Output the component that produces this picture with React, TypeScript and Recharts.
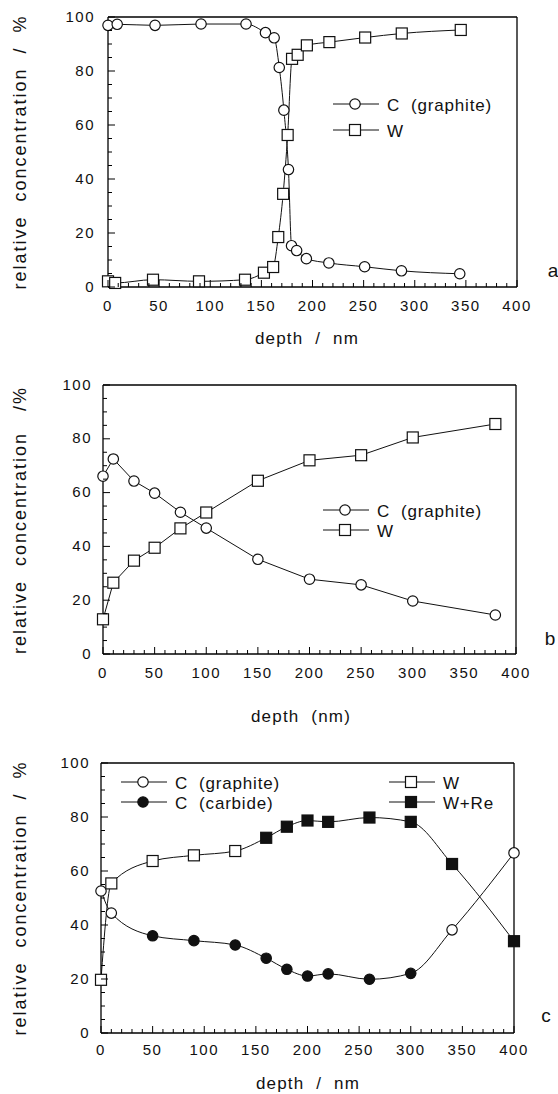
import React from "react";
import { LineChart, Line, XAxis, YAxis } from "recharts";

const FONT = "'Liberation Sans', Arial, Helvetica, sans-serif";
const INK = "#111";

// panel a
const aGraphiteDepth = [0, 9, 46, 91, 135, 154, 162.5, 167.5, 172, 176.5, 179.5, 184.5, 194, 216, 251, 287, 344];
const aGraphiteValue = [96.9, 97.3, 96.9, 97.4, 97.4, 94.2, 92.3, 81.3, 65.5, 43.5, 15.3, 13.5, 10.5, 8.9, 7.5, 6.0, 4.9];
const aTungstenDepth = [0, 7, 44, 89, 134, 152.5, 161.5, 166.5, 171.3, 175.7, 180, 185.5, 194.5, 216.5, 251.5, 287.3, 345];
const aTungstenValue = [2.1, 1.5, 2.7, 2.1, 2.7, 5.3, 7.4, 18.5, 34.5, 56.3, 84.5, 86, 89.5, 90.7, 92.4, 93.9, 95.2];

// panel b
const bDepth = [0, 10, 30, 50, 75, 100, 150, 200, 250, 300, 380];
const bGraphite = [66.1, 72.5, 64.3, 59.8, 52.7, 46.8, 35.2, 27.8, 25.7, 19.7, 14.5];
const bTungsten = [12.9, 26.5, 34.7, 39.5, 46.7, 52.6, 64.4, 72.0, 73.9, 80.5, 85.5];

// panel c
const cDepth = [0, 10, 50, 90, 130, 160, 180, 200, 220, 260, 300, 340, 400];
const cCarbon = [52.6, 44.4, 36.0, 34.2, 32.6, 27.7, 23.6, 21.1, 21.9, 19.9, 22.1, 38.2, 66.7];
const cCarbonFilled = [false, false, true, true, true, true, true, true, true, true, true, false, false];
const cMetal = [19.7, 55.4, 63.7, 65.8, 67.4, 72.3, 76.4, 78.7, 78.2, 79.8, 78.2, 62.6, 34.0];
const cMetalFilled = [false, false, false, false, false, true, true, true, true, true, true, true, true];

const xTicks = Array.from({ length: 41 }, (_, i) => i * 10);
const yTicks = Array.from({ length: 21 }, (_, i) => i * 5);

const zip = (xs: number[], ys: number[], filled?: boolean[]) =>
  xs.map((x, i) => ({ x, y: ys[i], filled: filled ? filled[i] : false }));

const BottomTick = (props: any) => {
  const { x, y, payload, labelDy } = props;
  const major = payload.value % 50 === 0;
  const len = major ? 7 : 4;
  return (
    <g>
      <path d={`M${x},${y}V${y - len}`} stroke="#000" strokeWidth={1} fill="none" />
      {major && (
        <text x={x} y={y + labelDy} textAnchor="middle" dominantBaseline="central"
          fontFamily={FONT} fontSize={15} letterSpacing={1.5} fill={INK}>
          {payload.value}
        </text>
      )}
    </g>
  );
};

const TopTick = (props: any) => {
  const { x, y, payload } = props;
  const len = payload.value % 50 === 0 ? 7 : 4;
  return <path d={`M${x},${y}V${y + len}`} stroke="#000" strokeWidth={1} fill="none" />;
};

const LeftTick = (props: any) => {
  const { x, y, payload, labelDx } = props;
  const major = payload.value % 20 === 0;
  const len = major ? 7 : 4;
  return (
    <g>
      <path d={`M${x},${y}H${x + len}`} stroke="#000" strokeWidth={1} fill="none" />
      {major && (
        <text x={x - labelDx} y={y - 1} textAnchor="end" dominantBaseline="central"
          fontFamily={FONT} fontSize={15} letterSpacing={1.5} fill={INK}>
          {payload.value}
        </text>
      )}
    </g>
  );
};

const RightTick = (props: any) => {
  const { x, y, payload } = props;
  const len = payload.value % 20 === 0 ? 7 : 4;
  return <path d={`M${x},${y}H${x - len}`} stroke="#000" strokeWidth={1} fill="none" />;
};

const makeDot = (shape: "circle" | "square") => (props: any) => {
  const { cx, cy, payload, index } = props;
  if (cx == null || cy == null) return <g key={index} />;
  const fill = payload.filled ? INK : "#fff";
  if (shape === "circle")
    return <circle key={index} cx={cx} cy={cy} r={5.2} fill={fill} stroke={INK} strokeWidth={1.2} />;
  return <rect key={index} x={cx - 5.5} y={cy - 5.5} width={11} height={11} fill={fill} stroke={INK} strokeWidth={1.2} />;
};

type Series = { data: { x: number; y: number; filled: boolean }[]; shape: "circle" | "square" };

// axes are 1px thick so that recharts still draws them; margins are the plot box minus 1
function Panel({ top, height, box, series, curve, labelDy, labelDx }: {
  top: number; height: number;
  box: { top: number; right: number; bottom: number; left: number };
  series: Series[]; curve: "monotone" | "linear"; labelDy: number; labelDx: number;
}) {
  const margin = { top: box.top - 1, right: box.right - 1, bottom: box.bottom - 1, left: box.left - 1 };
  const axisLine = { stroke: "#000", strokeWidth: 1.3 };
  return (
    <div style={{ position: "absolute", left: 0, top }}>
      <LineChart width={558} height={height} margin={margin}>
        <XAxis xAxisId="b" type="number" dataKey="x" domain={[0, 400]} ticks={xTicks} interval={0}
          height={1} tickSize={0} tickMargin={0} tickLine={false}
          axisLine={axisLine} tick={<BottomTick labelDy={labelDy} />} />
        <XAxis xAxisId="t" orientation="top" type="number" dataKey="x" domain={[0, 400]} ticks={xTicks}
          interval={0} height={1} tickSize={0} tickMargin={0} tickLine={false}
          axisLine={axisLine} tick={<TopTick />} />
        <YAxis yAxisId="l" type="number" domain={[0, 100]} ticks={yTicks} interval={0}
          width={1} tickSize={0} tickMargin={0} tickLine={false}
          axisLine={axisLine} tick={<LeftTick labelDx={labelDx} />} />
        <YAxis yAxisId="r" orientation="right" type="number" domain={[0, 100]} ticks={yTicks} interval={0}
          width={1} tickSize={0} tickMargin={0} tickLine={false}
          axisLine={axisLine} tick={<RightTick />} />
        {series.map((s, i) => (
          <Line key={i} xAxisId="b" yAxisId="l" data={s.data} dataKey="y" type={curve}
            stroke={INK} strokeWidth={1} dot={makeDot(s.shape)} activeDot={false}
            isAnimationActive={false} />
        ))}
      </LineChart>
    </div>
  );
}

type LegendItem = { label: string; shape: "circle" | "square"; filled: boolean; x: number; y: number };

const legendA: LegendItem[] = [
  { label: "C  (graphite)", shape: "circle", filled: false, x: 333, y: 104 },
  { label: "W", shape: "square", filled: false, x: 333, y: 130 },
];
const legendB: LegendItem[] = [
  { label: "C  (graphite)", shape: "circle", filled: false, x: 323, y: 510 },
  { label: "W", shape: "square", filled: false, x: 323, y: 530 },
];
const legendC: LegendItem[] = [
  { label: "C  (graphite)", shape: "circle", filled: false, x: 121, y: 782 },
  { label: "C  (carbide)", shape: "circle", filled: true, x: 121, y: 802 },
  { label: "W", shape: "square", filled: false, x: 389, y: 782 },
  { label: "W+Re", shape: "square", filled: true, x: 389, y: 802 },
];

const textBase: React.CSSProperties = {
  position: "absolute", fontFamily: FONT, color: INK, lineHeight: 1, whiteSpace: "pre",
};

const LegendRow = ({ it }: { it: LegendItem }) => {
  const fill = it.filled ? INK : "#fff";
  return (
    <>
      <svg width={48} height={16} style={{ position: "absolute", left: it.x, top: it.y - 8 }}>
        <line x1={0} x2={46} y1={8} y2={8} stroke={INK} strokeWidth={1} />
        {it.shape === "circle" ? (
          <circle cx={22} cy={8} r={5.2} fill={fill} stroke={INK} strokeWidth={1.2} />
        ) : (
          <rect x={16.5} y={2.5} width={11} height={11} fill={fill} stroke={INK} strokeWidth={1.2} />
        )}
      </svg>
      <div style={{ ...textBase, left: it.x + 54, top: it.y + 1, fontSize: 17, letterSpacing: 0.8,
        transform: "translateY(-50%)" }}>
        {it.label}
      </div>
    </>
  );
};

const YTitle = ({ x, y, text }: { x: number; y: number; text: string }) => (
  <div style={{ ...textBase, left: x, top: y, fontSize: 18, letterSpacing: 2,
    transform: "translate(-50%, -50%) rotate(-90deg)" }}>
    {text}
  </div>
);

const XTitle = ({ x, y, text }: { x: number; y: number; text: string }) => (
  <div style={{ ...textBase, left: x, top: y, fontSize: 17, letterSpacing: 1.2,
    transform: "translate(-50%, -50%)" }}>
    {text}
  </div>
);

const Tag = ({ x, y, text }: { x: number; y: number; text: string }) => (
  <div style={{ ...textBase, left: x, top: y, fontSize: 19, transform: "translate(-50%, -50%)" }}>
    {text}
  </div>
);

export default function App() {
  return (
    <div style={{ position: "absolute", left: 0, top: 0, width: 558, height: 1094 }}>
      {[...legendA, ...legendB, ...legendC].map((it, i) => <LegendRow key={i} it={it} />)}
      <YTitle x={20} y={152} text="relative  concentration  /  %" />
      <YTitle x={20} y={520} text="relative  concentration   /%" />
      <YTitle x={20} y={898} text="relative  concentration  /  %" />
      <XTitle x={307} y={338} text="depth  /  nm" />
      <XTitle x={301} y={716} text="depth  (nm)" />
      <XTitle x={308} y={1083} text="depth  /  nm" />
      <Tag x={553} y={270} text="a" />
      <Tag x={550} y={638} text="b" />
      <Tag x={546} y={1015} text="c" />
      <Panel top={0} height={360} box={{ top: 17, right: 41, bottom: 73, left: 108 }}
        curve="monotone" labelDy={18} labelDx={13}
        series={[
          { data: zip(aGraphiteDepth, aGraphiteValue), shape: "circle" },
          { data: zip(aTungstenDepth, aTungstenValue), shape: "square" },
        ]} />
      <Panel top={365} height={360} box={{ top: 20, right: 42, bottom: 71, left: 103 }}
        curve="linear" labelDy={18} labelDx={11}
        series={[
          { data: zip(bDepth, bGraphite), shape: "circle" },
          { data: zip(bDepth, bTungsten), shape: "square" },
        ]} />
      <Panel top={740} height={354} box={{ top: 23, right: 44, bottom: 61, left: 101 }}
        curve="monotone" labelDy={16} labelDx={11}
        series={[
          { data: zip(cDepth, cCarbon, cCarbonFilled), shape: "circle" },
          { data: zip(cDepth, cMetal, cMetalFilled), shape: "square" },
        ]} />
    </div>
  );
}
